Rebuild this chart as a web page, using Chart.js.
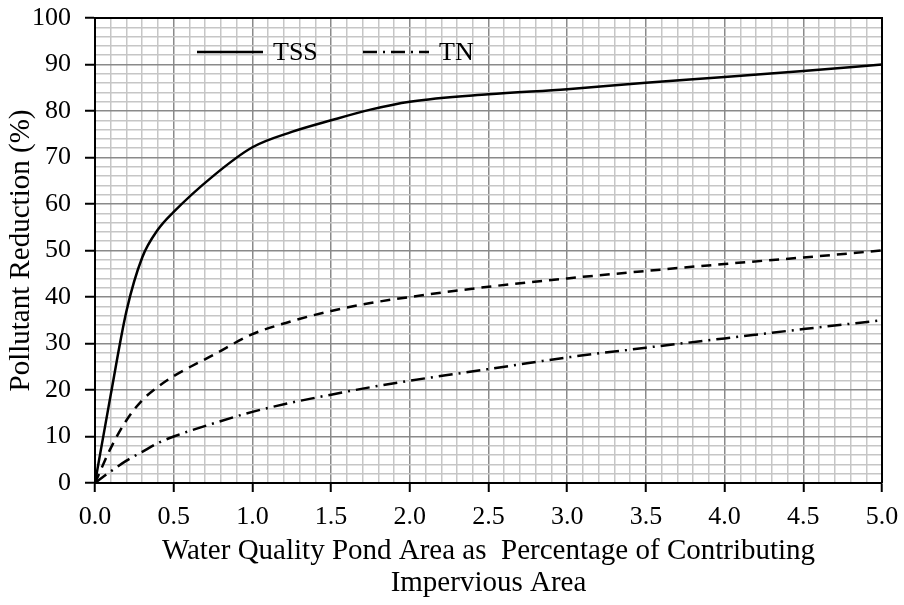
<!DOCTYPE html>
<html>
<head>
<meta charset="utf-8">
<script src="https://cdn.jsdelivr.net/npm/chart.js@4.4.1/dist/chart.umd.min.js"></script>
<style>
  html, body { margin: 0; padding: 0; background: #fff; }
  #wrap { width: 904px; height: 605px; }
</style>
</head>
<body>
<div id="wrap"><canvas id="pondChart" width="904" height="605"></canvas></div>
<script>
const pondArea = [0, 0.1, 0.2, 0.3, 0.4, 0.5, 0.75, 1.0, 1.25, 1.5, 1.75, 2.0, 2.5, 3.0, 3.5, 4.0, 4.5, 5.0];
const tssReduction = [0, 19, 37, 48.5, 54.5, 58.3, 66, 72.2, 75.5, 78, 80.3, 82, 83.6, 84.7, 86.1, 87.3, 88.6, 90];
const tpReduction = [0, 7.5, 13.5, 17.8, 20.7, 23, 27.5, 32, 34.8, 37, 38.7, 40, 42.2, 44, 45.6, 47.1, 48.5, 50];
const tnReduction = [0, 2.5, 4.8, 6.7, 8.6, 10, 12.8, 15.3, 17.3, 19, 20.6, 22, 24.5, 27, 29.1, 31.1, 33.1, 35];

const xTitle = ['Water Quality Pond Area as  Percentage of Contributing', 'Impervious Area'];
const yTitle = 'Pollutant Reduction (%)';

const serif = '"Liberation Serif", "Times New Roman", serif';

const toPoints = (ys) => pondArea.map((x, i) => ({ x: x, y: ys[i] }));

const isMajor = (v, step) => Math.abs(v / step - Math.round(v / step)) < 1e-6;

// legend drawn inside the plot, only for series flagged inLegend
const insideLegend = {
  id: 'insideLegend',
  afterDatasetsDraw(chart) {
    const { ctx, chartArea } = chart;
    let x = chartArea.left + 102;
    const y = chartArea.top + 34;
    ctx.save();
    ctx.font = `26px ${serif}`;
    ctx.textBaseline = 'middle';
    chart.data.datasets.forEach((ds) => {
      if (!ds.inLegend) return;
      ctx.strokeStyle = ds.borderColor;
      ctx.lineWidth = ds.borderWidth;
      ctx.setLineDash(ds.borderDash || []);
      ctx.beginPath();
      ctx.moveTo(x, y);
      ctx.lineTo(x + 66, y);
      ctx.stroke();
      ctx.setLineDash([]);
      ctx.fillStyle = '#000';
      ctx.fillText(ds.label, x + 76, y + 1);
      x += 166;
    });
    ctx.restore();
  }
};

const frameBox = {
  id: 'frameBox',
  afterDatasetsDraw(chart) {
    const { ctx, chartArea: a } = chart;
    ctx.save();
    ctx.strokeStyle = '#000';
    ctx.lineWidth = 2;
    ctx.beginPath();
    ctx.moveTo(a.left, a.top);
    ctx.lineTo(a.right, a.top);
    ctx.lineTo(a.right, a.bottom);
    ctx.stroke();
    ctx.restore();
  }
};

const lineStyle = { fill: false, pointRadius: 0, borderWidth: 2.5, borderColor: '#000', cubicInterpolationMode: 'monotone' };

new Chart(document.getElementById('pondChart'), {
  type: 'line',
  data: {
    datasets: [
      { ...lineStyle, label: 'TSS', data: toPoints(tssReduction), inLegend: true },
      { ...lineStyle, label: 'TP', data: toPoints(tpReduction), borderDash: [10, 7], inLegend: false },
      { ...lineStyle, label: 'TN', data: toPoints(tnReduction), borderDash: [14, 6, 2, 6], inLegend: true }
    ]
  },
  plugins: [insideLegend, frameBox],
  options: {
    responsive: false,
    animation: false,
    layout: { padding: { top: 18, right: 22, left: 4, bottom: 4 } },
    plugins: { legend: { display: false }, tooltip: { enabled: false } },
    scales: {
      x: {
        type: 'linear',
        min: 0,
        max: 5,
        afterFit: (s) => { s.height = 118; s.paddingLeft = 0; s.paddingRight = 0; },
        border: { color: '#000', width: 2 },
        grid: {
          color: (c) => isMajor(c.tick.value, 0.5) ? '#8a8a8a' : '#c6c6c6',
          lineWidth: 1.5,
          tickColor: (c) => isMajor(c.tick.value, 0.5) ? '#000' : 'rgba(0,0,0,0)',
          tickWidth: 2,
          tickLength: 9
        },
        ticks: {
          stepSize: 0.1,
          autoSkip: false,
          maxTicksLimit: 200,
          maxRotation: 0,
          color: '#000',
          padding: 10,
          font: { family: serif, size: 26 },
          callback: (v) => isMajor(v, 0.5) ? Number(v).toFixed(1) : ''
        },
        title: {
          display: true,
          text: xTitle,
          color: '#000',
          font: { family: serif, size: 29, lineHeight: 1.1 },
          padding: { top: 0, bottom: 2 }
        }
      },
      y: {
        min: 0,
        max: 100,
        afterFit: (s) => { s.width = 91; s.paddingTop = 0; s.paddingBottom = 0; },
        border: { color: '#000', width: 2 },
        grid: {
          color: (c) => isMajor(c.tick.value, 10) ? '#8a8a8a' : '#c6c6c6',
          lineWidth: 1.5,
          tickColor: (c) => isMajor(c.tick.value, 10) ? '#000' : 'rgba(0,0,0,0)',
          tickWidth: 2,
          tickLength: 10
        },
        ticks: {
          stepSize: 2,
          autoSkip: false,
          maxTicksLimit: 200,
          color: '#000',
          padding: 14,
          font: { family: serif, size: 26 },
          callback: (v) => isMajor(v, 10) ? String(v) : ''
        },
        title: {
          display: true,
          text: yTitle,
          color: '#000',
          font: { family: serif, size: 29 },
          padding: { top: 0, bottom: 0 }
        }
      }
    }
  }
});
</script>
</body>
</html>
